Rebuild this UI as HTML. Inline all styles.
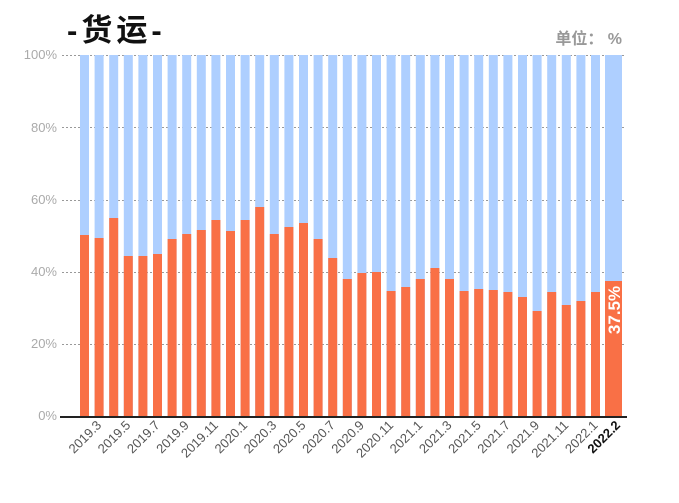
<!DOCTYPE html>
<html><head><meta charset="utf-8"><style>
body{margin:0;background:#fff;}
svg{display:block;font-family:"Liberation Sans","Noto Sans CJK SC",sans-serif;}
</style></head><body>
<svg width="679" height="503" viewBox="0 0 679 503" xmlns="http://www.w3.org/2000/svg">
<text x="67" y="41" font-size="31" font-weight="bold" fill="#111" letter-spacing="4" font-family="Liberation Sans,Noto Sans CJK SC,sans-serif">-货运-</text>
<text x="622" y="44" font-size="16" font-weight="bold" fill="#999" text-anchor="end">单位： %</text>
<g font-size="13" fill="#aaa" text-anchor="end">
<text x="57" y="59">100%</text><text x="57" y="132">80%</text><text x="57" y="204">60%</text><text x="57" y="276">40%</text><text x="57" y="348">20%</text><text x="57" y="420">0%</text>
</g>
<g stroke="#999" stroke-dasharray="2,2" stroke-width="1">
<line x1="62" y1="55.5" x2="625" y2="55.5"/><line x1="62" y1="127.5" x2="625" y2="127.5"/><line x1="62" y1="200.5" x2="625" y2="200.5"/><line x1="62" y1="272.5" x2="625" y2="272.5"/><line x1="62" y1="344.5" x2="625" y2="344.5"/>
</g>
<g fill="#aecfff">
<rect x="80" y="55" width="9" height="361"/><rect x="94.6" y="55" width="9" height="361"/><rect x="109.2" y="55" width="9" height="361"/><rect x="123.8" y="55" width="9" height="361"/><rect x="138.4" y="55" width="9" height="361"/><rect x="153" y="55" width="9" height="361"/><rect x="167.6" y="55" width="9" height="361"/><rect x="182.2" y="55" width="9" height="361"/><rect x="196.8" y="55" width="9" height="361"/><rect x="211.4" y="55" width="9" height="361"/><rect x="226" y="55" width="9" height="361"/><rect x="240.6" y="55" width="9" height="361"/><rect x="255.2" y="55" width="9" height="361"/><rect x="269.8" y="55" width="9" height="361"/><rect x="284.4" y="55" width="9" height="361"/><rect x="299" y="55" width="9" height="361"/><rect x="313.6" y="55" width="9" height="361"/><rect x="328.2" y="55" width="9" height="361"/><rect x="342.8" y="55" width="9" height="361"/><rect x="357.4" y="55" width="9" height="361"/><rect x="372" y="55" width="9" height="361"/><rect x="386.6" y="55" width="9" height="361"/><rect x="401.2" y="55" width="9" height="361"/><rect x="415.8" y="55" width="9" height="361"/><rect x="430.4" y="55" width="9" height="361"/><rect x="445" y="55" width="9" height="361"/><rect x="459.6" y="55" width="9" height="361"/><rect x="474.2" y="55" width="9" height="361"/><rect x="488.8" y="55" width="9" height="361"/><rect x="503.4" y="55" width="9" height="361"/><rect x="518" y="55" width="9" height="361"/><rect x="532.6" y="55" width="9" height="361"/><rect x="547.2" y="55" width="9" height="361"/><rect x="561.8" y="55" width="9" height="361"/><rect x="576.4" y="55" width="9" height="361"/><rect x="591" y="55" width="9" height="361"/><rect x="605" y="55" width="17" height="361"/>
</g>
<g fill="#f97046">
<rect x="80" y="235" width="9" height="181"/><rect x="94.6" y="238" width="9" height="178"/><rect x="109.2" y="218" width="9" height="198"/><rect x="123.8" y="256" width="9" height="160"/><rect x="138.4" y="256" width="9" height="160"/><rect x="153" y="254" width="9" height="162"/><rect x="167.6" y="239" width="9" height="177"/><rect x="182.2" y="234" width="9" height="182"/><rect x="196.8" y="230" width="9" height="186"/><rect x="211.4" y="220" width="9" height="198"/><rect x="226" y="231" width="9" height="185"/><rect x="240.6" y="220" width="9" height="196"/><rect x="255.2" y="207" width="9" height="209"/><rect x="269.8" y="234" width="9" height="182"/><rect x="284.4" y="227" width="9" height="189"/><rect x="299" y="223" width="9" height="193"/><rect x="313.6" y="239" width="9" height="177"/><rect x="328.2" y="258" width="9" height="158"/><rect x="342.8" y="279" width="9" height="137"/><rect x="357.4" y="273" width="9" height="143"/><rect x="372" y="272" width="9" height="144"/><rect x="386.6" y="291" width="9" height="125"/><rect x="401.2" y="287" width="9" height="129"/><rect x="415.8" y="279" width="9" height="137"/><rect x="430.4" y="268" width="9" height="148"/><rect x="445" y="279" width="9" height="137"/><rect x="459.6" y="291" width="9" height="125"/><rect x="474.2" y="289" width="9" height="127"/><rect x="488.8" y="290" width="9" height="126"/><rect x="503.4" y="292" width="9" height="124"/><rect x="518" y="297" width="9" height="119"/><rect x="532.6" y="311" width="9" height="105"/><rect x="547.2" y="292" width="9" height="124"/><rect x="561.8" y="305" width="9" height="111"/><rect x="576.4" y="301" width="9" height="115"/><rect x="591" y="292" width="9" height="124"/><rect x="605" y="281" width="17" height="135"/>
</g>
<line x1="60" y1="417" x2="627" y2="417" stroke="#222" stroke-width="2"/>
<text transform="translate(620,310) rotate(-90)" font-size="17" font-weight="bold" fill="#fff" text-anchor="middle">37.5%</text>
<g font-size="13" fill="#555" text-anchor="end">
<text transform="translate(102.1,426) rotate(-45)">2019.3</text>
<text transform="translate(131.3,426) rotate(-45)">2019.5</text>
<text transform="translate(160.5,426) rotate(-45)">2019.7</text>
<text transform="translate(189.7,426) rotate(-45)">2019.9</text>
<text transform="translate(218.9,426) rotate(-45)">2019.11</text>
<text transform="translate(248.1,426) rotate(-45)">2020.1</text>
<text transform="translate(277.3,426) rotate(-45)">2020.3</text>
<text transform="translate(306.5,426) rotate(-45)">2020.5</text>
<text transform="translate(335.7,426) rotate(-45)">2020.7</text>
<text transform="translate(364.9,426) rotate(-45)">2020.9</text>
<text transform="translate(394.1,426) rotate(-45)">2020.11</text>
<text transform="translate(423.3,426) rotate(-45)">2021.1</text>
<text transform="translate(452.5,426) rotate(-45)">2021.3</text>
<text transform="translate(481.7,426) rotate(-45)">2021.5</text>
<text transform="translate(510.9,426) rotate(-45)">2021.7</text>
<text transform="translate(540.1,426) rotate(-45)">2021.9</text>
<text transform="translate(569.3,426) rotate(-45)">2021.11</text>
<text transform="translate(598.5,426) rotate(-45)">2022.1</text>
<text transform="translate(621,426) rotate(-45)" font-weight="bold" fill="#111">2022.2</text>
</g>
</svg>
</body></html>
